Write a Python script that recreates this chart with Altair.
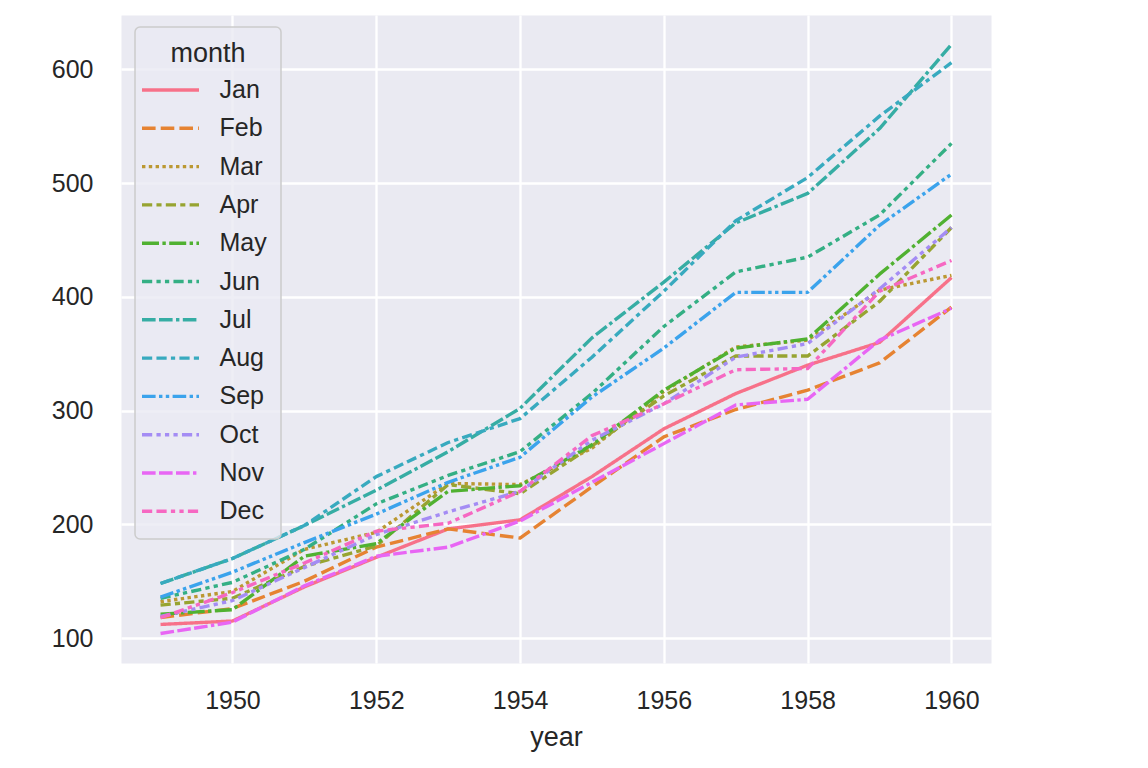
import math
import altair as alt
import pandas as pd

months = ["Jan", "Feb", "Mar", "Apr", "May", "Jun", "Jul", "Aug", "Sep", "Oct", "Nov", "Dec"]
years = [1949, 1950, 1951, 1952, 1953, 1954, 1955, 1956, 1957, 1958, 1959, 1960]

jan = [112, 115, 145, 171, 196, 204, 242, 284, 315, 340, 360, 417]
feb = [118, 126, 150, 180, 196, 188, 233, 277, 301, 318, 342, 391]
mar = [132, 141, 178, 193, 236, 235, 267, 317, 356, 362, 406, 419]
apr = [129, 135, 163, 181, 235, 227, 269, 313, 348, 348, 396, 461]
may = [121, 125, 172, 183, 229, 234, 270, 318, 355, 363, 420, 472]
jun = [135, 149, 178, 218, 243, 264, 315, 374, 422, 435, 472, 535]
jul = [148, 170, 199, 230, 264, 302, 364, 413, 465, 491, 548, 622]
aug = [148, 170, 199, 242, 272, 293, 347, 405, 467, 505, 559, 606]
sep = [136, 158, 184, 209, 237, 259, 312, 355, 404, 404, 463, 508]
oct_ = [119, 133, 162, 191, 211, 229, 274, 306, 347, 359, 407, 461]
nov = [104, 114, 146, 172, 180, 203, 237, 271, 305, 310, 362, 390]
dec = [118, 140, 166, 194, 201, 229, 278, 306, 336, 337, 405, 432]
series = [jan, feb, mar, apr, may, jun, jul, aug, sep, oct_, nov, dec]

x_ticks = [1950, 1952, 1954, 1956, 1958, 1960]
y_ticks = [100, 200, 300, 400, 500, 600]

rows = []
for m, vals in zip(months, series):
    for yr, v in zip(years, vals):
        rows.append({"year": yr, "passengers": v, "month": m})
df = pd.DataFrame(rows)

# seaborn "husl" palette (12 colours)
_M = [[3.2406, -1.5372, -0.4986], [-0.9689, 1.8758, 0.0415], [0.0557, -0.2040, 1.0570]]
_refU, _refV = 0.19784, 0.46834


def _max_chroma(L, H):
    hrad = math.radians(H)
    sinH, cosH = math.sin(hrad), math.cos(hrad)
    sub1 = (L + 16) ** 3 / 1560896.0
    sub2 = sub1 if sub1 > 0.008856 else L / 903.3
    result = float("inf")
    for m1, m2, m3 in _M:
        top = (0.99915 * m1 + 1.05122 * m2 + 1.14460 * m3) * sub2
        rbottom = 0.86330 * m3 - 0.17266 * m2
        lbottom = 0.12949 * m3 - 0.38848 * m1
        bottom = (rbottom * sinH + lbottom * cosH) * sub2
        for t in (0.0, 1.0):
            C = L * (top - 1.05122 * t) / (bottom + 0.17266 * sinH * t)
            if 0.0 < C < result:
                result = C
    return result


def _f_inv(t):
    return t ** 3 if t ** 3 > 0.008856 else (116 * t - 16) / 903.3


def _from_linear(c):
    return 12.92 * c if c <= 0.0031308 else 1.055 * c ** (1 / 2.4) - 0.055


def _husl_hex(h, s, l):
    C = _max_chroma(l, h) / 100.0 * s
    hrad = math.radians(h)
    U, V = C * math.cos(hrad), C * math.sin(hrad)
    varY = _f_inv((l + 16) / 116.0)
    varU = U / (13.0 * l) + _refU
    varV = V / (13.0 * l) + _refV
    Y = varY
    X = 0.0 - (9.0 * Y * varU) / ((varU - 4.0) * varV - varU * varV)
    Z = (9.0 * Y - (15.0 * varV * Y) - (varV * X)) / (3.0 * varV)
    rgb = []
    for row in _M:
        c = _from_linear(row[0] * X + row[1] * Y + row[2] * Z)
        rgb.append(min(1.0, max(0.0, c)))
    return "#%02x%02x%02x" % tuple(int(round(c * 255)) for c in rgb)


colors = [_husl_hex(((i / 12.0 + 0.01) % 1) * 359, 0.9 * 99, 0.65 * 99) for i in range(12)]

u = 3.4
dash_units = [
    (1, 0),
    (4, 1.5),
    (1, 1),
    (3, 1.25, 1.5, 1.25),
    (5, 1, 1, 1),
    (3, 1.25, 1.25, 1.25, 1.25, 1.25),
    (4, 1, 4, 1, 1, 1),
    (3, 1.25, 3, 1.25, 1.25, 1.25),
    (4, 1, 1, 1, 1, 1),
    (3, 1.25, 1.25, 1.25, 1.25, 1.25, 1.25, 1.25),
    (4, 1, 4, 1, 4, 1, 1, 1),
    (3, 1.25, 3, 1.25, 1.25, 1.25, 1.25, 1.25),
]
dashes = [[1, 0]] + [[round(d * u, 2) for d in spec] for spec in dash_units[1:]]

FONT = "Liberation Sans"
TXT = "#262626"

chart = (
    alt.Chart(df)
    .mark_line(strokeWidth=3.4, strokeJoin="round")
    .encode(
        x=alt.X(
            "year:Q",
            scale=alt.Scale(domain=[1948.45, 1960.55], nice=False, zero=False),
            axis=alt.Axis(values=x_ticks, format="d", title="year", labelPadding=25, titlePadding=11),
        ),
        y=alt.Y(
            "passengers:Q",
            scale=alt.Scale(domain=[78.1, 647.9], nice=False, zero=False),
            axis=alt.Axis(values=y_ticks, title=None, labelPadding=28),
        ),
        color=alt.Color(
            "month:N",
            sort=months,
            scale=alt.Scale(domain=months, range=colors),
            legend=alt.Legend(title="month"),
        ),
        strokeDash=alt.StrokeDash(
            "month:N",
            sort=months,
            scale=alt.Scale(domain=months, range=dashes),
            legend=alt.Legend(title="month"),
        ),
    )
    .properties(
        width=870,
        height=648,
        autosize=alt.AutoSizeParams(type="none"),
        padding={"left": 113, "top": 7, "right": 40, "bottom": 100},
    )
    .configure_view(fill="#eaeaf2", stroke="transparent")
    .configure_axis(
        domain=False,
        ticks=False,
        tickSize=0,
        grid=True,
        gridColor="#ffffff",
        gridWidth=2.3,
        labelFont=FONT,
        labelFontSize=25,
        labelColor=TXT,
        titleFont=FONT,
        titleFontSize=27,
        titleFontWeight="normal",
        titleColor=TXT,
    )
    .configure_legend(
        orient="none",
        legendX=14,
        legendY=12,
        fillColor="rgba(234,234,242,0.8)",
        strokeColor="#cccccc",
        strokeWidth=1.5,
        cornerRadius=5,
        padding=14,
        titleFont=FONT,
        titleFontSize=27,
        titleFontWeight="normal",
        titleColor=TXT,
        titleAnchor="middle",
        titlePadding=6,
        labelFont=FONT,
        labelFontSize=25,
        labelColor=TXT,
        symbolType="M-2,0H2",
        symbolSize=812,
        symbolStrokeWidth=3.4,
        symbolOffset=5.5,
        labelOffset=33,
        rowPadding=9.3,
    )
)

chart.save("out.html", embed_options={"renderer": "svg", "actions": False})
